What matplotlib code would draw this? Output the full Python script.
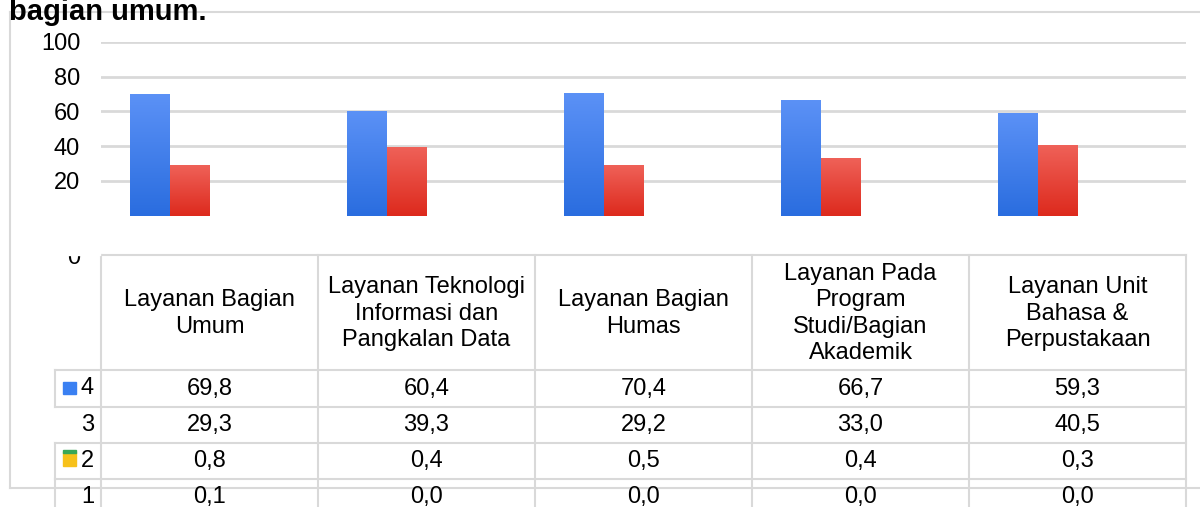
import numpy as np
import matplotlib
matplotlib.use("Agg")
import matplotlib.pyplot as plt
from matplotlib.patches import Rectangle
from matplotlib.colors import to_rgb

plt.rcParams['font.family'] = ['Liberation Sans', 'DejaVu Sans']

categories = ["Layanan Bagian\nUmum",
              "Layanan Teknologi\nInformasi dan\nPangkalan Data",
              "Layanan Bagian\nHumas",
              "Layanan Pada\nProgram\nStudi/Bagian\nAkademik",
              "Layanan Unit\nBahasa &\nPerpustakaan"]
row_labels = ["4", "3", "2", "1"]
s4 = [69.8, 60.4, 70.4, 66.7, 59.3]
s3 = [29.3, 39.3, 29.2, 33.0, 40.5]
s2 = [0.8, 0.4, 0.5, 0.4, 0.3]
s1 = [0.1, 0.0, 0.0, 0.0, 0.0]
yticks = [20, 40, 60, 80, 100]
title = "bagian umum."

W, H = 1200, 507
GRID = "#d9d9d9"
FS = 17

fig = plt.figure(figsize=(W / 100, H / 100), dpi=100)

# full-figure overlay in pixel coords (frame, table, title)
ov = fig.add_axes([0, 0, 1, 1], zorder=0)
ov.set_xlim(0, W)
ov.set_ylim(H, 0)
ov.axis("off")

# chart area: columns 217 px wide starting at x=101, y 0 at 215.6 px, 100 at 42 px
x0, col_w = 101, 217
y0_px, y100_px = 215.6, 42
ax = fig.add_axes([x0 / W, (H - y0_px) / H, 5 * col_w / W, (y0_px - y100_px) / H], zorder=1)
ax.set_facecolor("none")

x = np.arange(len(categories))
bw = 40 / col_w


def grad_bars(bars, top, bottom):
    c1, c2 = np.array(to_rgb(top)), np.array(to_rgb(bottom))
    g = np.linspace(0, 1, 64)[:, None, None]
    img = c1 * (1 - g) + c2 * g
    for b in bars:
        bx, by, bwid, bh = b.get_x(), b.get_y(), b.get_width(), b.get_height()
        if bh <= 0:
            continue
        im = ax.imshow(img, extent=[bx, bx + bwid, by, by + bh], origin="upper",
                       aspect="auto", zorder=3, interpolation="bilinear")
        im.set_clip_path(b)


# groups hold 4 slots (series 4,3,2,1); 2 and 1 are too small to show
b4 = ax.bar(x - 1.5 * bw, s4, bw, align="center", color="#3a80f2", zorder=2)
b3 = ax.bar(x - 0.5 * bw, s3, bw, align="center", color="#ee3a2b", zorder=2)
grad_bars(b4, "#5b91f6", "#2a6ddf")
grad_bars(b3, "#ef6158", "#dd2a1d")

ax.set_xlim(-0.5, 4.5)
ax.set_ylim(0, 100)
ax.set_yticks(yticks)
ax.set_xticks([])
ax.yaxis.grid(True, color=GRID, linewidth=2)
ax.set_axisbelow(True)
for sp in ax.spines.values():
    sp.set_visible(False)
ax.tick_params(axis="y", length=0, pad=15, labelsize=FS)

# outer frame
lw = 1.5
ov.plot([10, 10], [12, 488], color=GRID, lw=lw)
ov.plot([10, W], [12, 12], color=GRID, lw=lw)
ov.plot([10, W], [488, 488], color=GRID, lw=lw)

# title (cut at the top of the image)
ov.text(9, 20, title, fontsize=21, fontweight="bold", va="baseline", ha="left", zorder=5)

# stray "0" tick, half hidden
ov.text(80, 258, "0", fontsize=FS, ha="right", va="center")
ov.add_patch(Rectangle((55, 235), 45, 20, color="white", zorder=4))

# table grid
edges = [x0 + i * col_w for i in range(len(categories) + 1)]
top_y, head_y = 255, 370
row_y = [370, 407, 443, 479, H + 5]
ov.plot([edges[0], edges[-1]], [top_y, top_y], color=GRID, lw=lw)
for yy in row_y[:-1]:
    ov.plot([55, edges[-1]], [yy, yy], color=GRID, lw=lw)
for ex in edges:
    ov.plot([ex, ex], [top_y, H], color=GRID, lw=lw)
# legend boxes on the left (rows 4, 2 and 1)
for r in (0, 2, 3):
    ov.plot([55, 55], [row_y[r], row_y[r + 1]], color=GRID, lw=lw)

centers = [(edges[i] + edges[i + 1]) / 2 for i in range(len(categories))]
for cx, lab in zip(centers, categories):
    ov.text(cx, (top_y + head_y) / 2 + 1, lab, ha="center", va="center",
            fontsize=FS, linespacing=1.26)

rows = [s4, s3, s2, s1]
for r, vals in enumerate(rows):
    cy = (row_y[r] + row_y[r + 1]) / 2 if r < 3 else 497
    ov.text(94, cy, row_labels[r], ha="right", va="center", fontsize=FS)
    for cx, v in zip(centers, vals):
        ov.text(cx, cy, f"{v:.1f}".replace(".", ","), ha="center", va="center", fontsize=FS)

# legend keys
ov.add_patch(Rectangle((63, 382), 13, 12, color="#3a80f2", zorder=3))
ov.add_patch(Rectangle((63, 452), 13, 14, color="#f7c11a", zorder=3))
ov.add_patch(Rectangle((63, 450), 13, 3, color="#3aa757", zorder=3))

fig.savefig("out.png", dpi=100)
